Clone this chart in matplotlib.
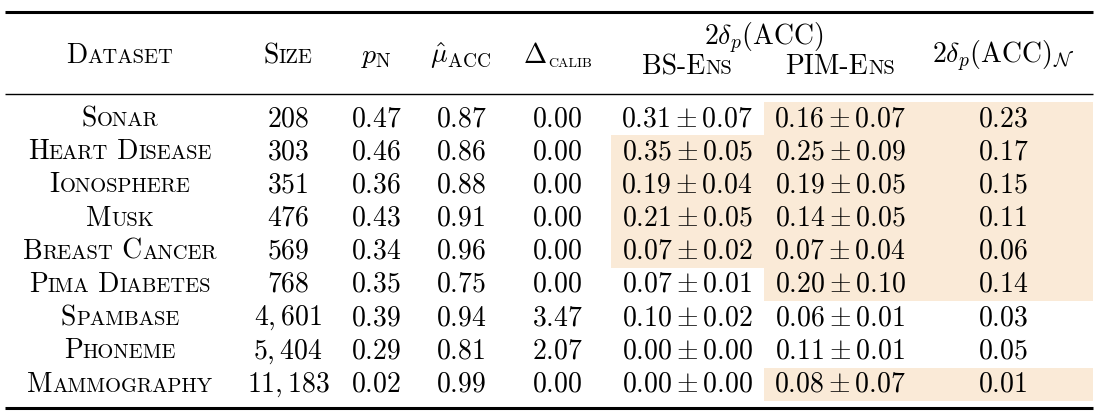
import matplotlib
matplotlib.use("Agg")
import matplotlib.pyplot as plt
from matplotlib.patches import Rectangle

plt.rcParams['mathtext.fontset'] = 'cm'

# ---- data ----
datasets = ["Sonar", "Heart Disease", "Ionosphere", "Musk", "Breast Cancer",
            "Pima Diabetes", "Spambase", "Phoneme", "Mammography"]
sizes = ["208", "303", "351", "476", "569", "768", "4,601", "5,404", "11,183"]
p_n = ["0.47", "0.46", "0.36", "0.43", "0.34", "0.35", "0.39", "0.29", "0.02"]
mu_acc = ["0.87", "0.86", "0.88", "0.91", "0.96", "0.75", "0.94", "0.81", "0.99"]
delta_calib = ["0.00", "0.00", "0.00", "0.00", "0.00", "0.00", "3.47", "2.07", "0.00"]
bs_mean = ["0.31", "0.35", "0.19", "0.21", "0.07", "0.07", "0.10", "0.00", "0.00"]
bs_std = ["0.07", "0.05", "0.04", "0.05", "0.02", "0.01", "0.02", "0.00", "0.00"]
pim_mean = ["0.16", "0.25", "0.19", "0.14", "0.07", "0.20", "0.06", "0.11", "0.08"]
pim_std = ["0.07", "0.09", "0.05", "0.05", "0.04", "0.10", "0.01", "0.01", "0.07"]
delta_n = ["0.23", "0.17", "0.15", "0.11", "0.06", "0.14", "0.03", "0.05", "0.01"]
hl_bs = [False, True, True, True, True, False, False, False, False]
hl_pim = [True, True, True, True, True, True, False, False, True]

# ---- layout ----
W, H = 1100, 417
fig = plt.figure(figsize=(W / 100, H / 100), dpi=100)
ax = fig.add_axes([0, 0, 1, 1])
ax.set_xlim(0, W)
ax.set_ylim(H, 0)
ax.axis('off')
renderer = fig.canvas.get_renderer()

FS = 20.0
SC = 0.74
HL = '#FAEAD7'

x_ds, x_size, x_pn, x_mu, x_dc = 120, 288, 376, 461, 557
x_bs, x_pim, x_n = 687, 840, 1003
bs_l, bs_r, pim_l, right_edge = 611, 764, 764, 1093
row_top0, row_h = 102, 33.2


def width_of(s, size, family='cmr10'):
    t = ax.text(0, 0, s, fontsize=size, family=family)
    w = t.get_window_extent(renderer).width
    t.remove()
    return w


def smallcaps(x, y, text, size=FS, ha='center'):
    segs = []
    for ch in text:
        if ch == ' ':
            segs.append((' ', size))
        elif ch.isupper() or not ch.isalpha():
            segs.append((ch, size))
        else:
            segs.append((ch.upper(), size * SC))
    runs = []
    for s, sz in segs:
        if runs and runs[-1][1] == sz:
            runs[-1][0] += s
        else:
            runs.append([s, sz])
    widths = [width_of(s, sz) for s, sz in runs]
    total = sum(widths)
    if ha == 'center':
        x0 = x - total / 2
    elif ha == 'left':
        x0 = x
    else:
        x0 = x - total
    for (s, sz), w in zip(runs, widths):
        ax.text(x0, y, s, fontsize=sz, family='cmr10', ha='left', va='baseline')
        x0 += w
    return total


def mtext(x, y, s, size=FS, ha='center'):
    ax.text(x, y, s, fontsize=size, ha=ha, va='baseline')


# highlights
for i in range(len(datasets)):
    top = row_top0 + i * row_h
    if hl_bs[i]:
        ax.add_patch(Rectangle((bs_l, top), bs_r - bs_l, row_h, color=HL, lw=0, zorder=0))
    if hl_pim[i]:
        ax.add_patch(Rectangle((pim_l, top), right_edge - pim_l, row_h, color=HL, lw=0, zorder=0))

# rules
ax.plot([5, right_edge], [12, 12], color='black', lw=2.2, solid_capstyle='butt')
ax.plot([5, right_edge], [94, 94], color='black', lw=1.0, solid_capstyle='butt')
ax.plot([5, right_edge], [408, 408], color='black', lw=2.2, solid_capstyle='butt')

# header
hb = 63
smallcaps(x_ds, hb, "Dataset")
smallcaps(x_size, hb, "Size")
mtext(x_pn, hb, r"$p_{\mathrm{N}}$")
mtext(x_mu, hb, r"$\hat{\mu}_{\mathrm{ACC}}$")
wd = width_of(r"$\Delta$", FS, family='DejaVu Sans')
wsub = width_of("CALIB", FS * 0.5)
x0 = x_dc - (wd + wsub) / 2
ax.text(x0, hb, r"$\Delta$", fontsize=FS, ha='left', va='baseline')
ax.text(x0 + wd + 1, hb + 4, "CALIB", fontsize=FS * 0.5, family='cmr10', ha='left', va='baseline')

mtext((x_bs + x_pim) / 2, 45, r"$2\delta_p(\mathrm{ACC})$")
smallcaps(x_bs, 74, "BS-Ens")
smallcaps(x_pim, 74, "PIM-Ens")
mtext(x_n, hb, r"$2\delta_p(\mathrm{ACC})_{\mathcal{N}}$")

# body
for i in range(len(datasets)):
    yb = row_top0 + i * row_h + 24
    smallcaps(x_ds, yb, datasets[i])
    mtext(x_size, yb, "$" + sizes[i] + "$")
    mtext(x_pn, yb, "$" + p_n[i] + "$")
    mtext(x_mu, yb, "$" + mu_acc[i] + "$")
    mtext(x_dc, yb, "$" + delta_calib[i] + "$")
    mtext(x_bs, yb, "$" + bs_mean[i] + r" \pm " + bs_std[i] + "$")
    mtext(x_pim, yb, "$" + pim_mean[i] + r" \pm " + pim_std[i] + "$")
    mtext(x_n, yb, "$" + delta_n[i] + "$")

fig.savefig("out.png", dpi=100)
